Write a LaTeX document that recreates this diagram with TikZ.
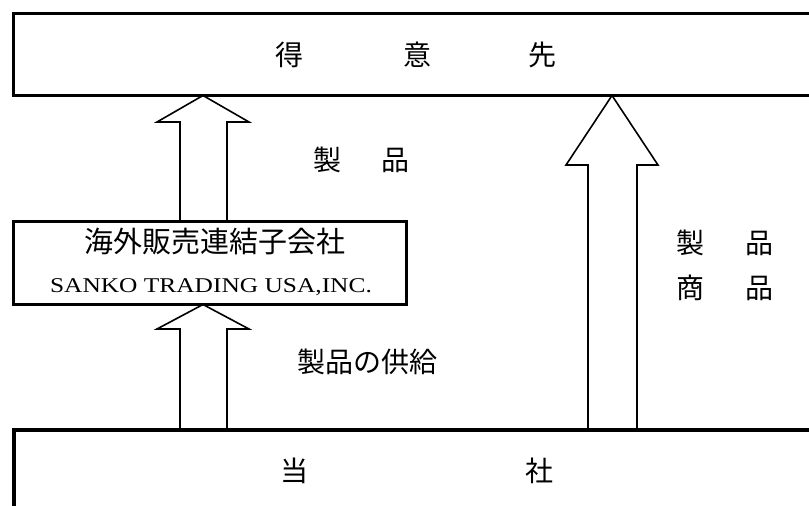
\documentclass[tikz,border=0pt]{standalone}
\usepackage{fontspec}
\setmainfont{Liberation Serif}
\newfontfamily\jpfont{Noto Sans CJK JP}
\newfontfamily\latinwide[FakeStretch=1.21]{Liberation Serif}
\begin{document}
\begin{tikzpicture}[x=1pt,y=-1pt,
  bigbox/.style={draw,line width=3.5pt,rectangle,inner sep=0pt,outer sep=0pt},
  blockarrow/.style={draw,line width=1.6pt,line join=miter},
  jp/.style={inner sep=0pt,font=\jpfont\fontsize{28}{32}\selectfont},
  jpmid/.style={inner sep=0pt,font=\jpfont\fontsize{29}{33}\selectfont},
  en/.style={inner sep=0pt,font=\latinwide\fontsize{21}{25}\selectfont}]
\path[use as bounding box] (0,0) rectangle (809,506);
\begin{scope}
\clip (0,0) rectangle (809,506);
% boxes
\node[bigbox,minimum width=886.5pt,minimum height=82pt] (top) at (456.75,54.5) {};
\node[bigbox,minimum width=393pt,minimum height=83pt] (mid) at (210,263) {};
\node[bigbox,minimum width=886pt,minimum height=170pt] (bot) at (457,515) {};
% block arrows
\draw[blockarrow] (180,0 |- mid.north) -- (180,122) -- (157,122) -- (203,0 |- top.south)
  -- (249,122) -- (227,122) -- (227,0 |- mid.north);
\draw[blockarrow] (180,0 |- bot.north) -- (180,329) -- (157,329) -- (203,0 |- mid.south)
  -- (249,329) -- (227,329) -- (227,0 |- bot.north);
\draw[blockarrow] (588,0 |- bot.north) -- (588,165) -- (566,165) -- (612,0 |- top.south)
  -- (658,165) -- (637,165) -- (637,0 |- bot.north);
% texts
\node[jp] (t1) at (289,55) {得};
\node[jp] (t2) at (417,55) {意};
\node[jp] (t3) at (542,55) {先};
\node[jp] (l1) at (327,160) {製};
\node[jp] (l2) at (395,160) {品};
\node[jpmid] (m1) at (215,242) {海外販売連結子会社};
\node[en] (m2) at (211,287.5) {SANKO TRADING USA,INC.};
\node[jp] (s1) at (367,362) {製品の供給};
\node[jp] (r1) at (690,243) {製};
\node[jp] (r2) at (759,243) {品};
\node[jp] (r3) at (690,288) {商};
\node[jp] (r4) at (759,288) {品};
\node[jp] (b1) at (294,471) {当};
\node[jp] (b2) at (539,471) {社};
\end{scope}
\end{tikzpicture}
\end{document}
